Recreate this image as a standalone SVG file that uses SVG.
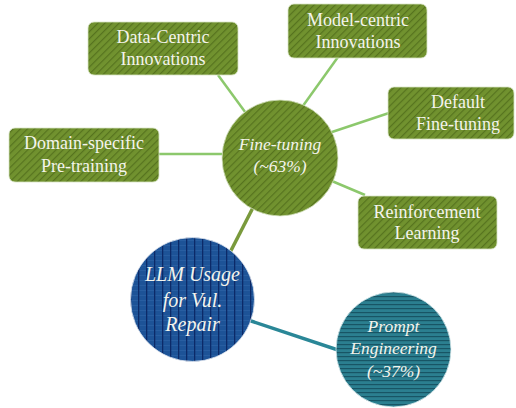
<svg xmlns="http://www.w3.org/2000/svg" width="516" height="408" viewBox="0 0 516 408">
<defs>
<pattern id="hatchG" patternUnits="userSpaceOnUse" width="5" height="5" patternTransform="rotate(45)">
<rect width="5" height="5" fill="#71922f"/>
<rect x="0" y="0" width="1.2" height="5" fill="#56731f"/>
</pattern>
<pattern id="gridB" patternUnits="userSpaceOnUse" width="8" height="5" x="2">
<rect width="8" height="5" fill="#1d5397"/>
<rect x="0" y="0" width="8" height="0.7" fill="#2c62a6"/>
<rect x="0" y="0" width="1.3" height="5" fill="#0c2a68"/>
</pattern>
<pattern id="hlinesT" patternUnits="userSpaceOnUse" width="8" height="4">
<rect width="8" height="4" fill="#2b7f90"/>
<rect x="0" y="0" width="8" height="1.2" fill="#185565"/>
</pattern>
<style>
.box{fill:url(#hatchG);stroke:#d8e4c4;stroke-width:0.8}
.bt{font-size:18px;fill:#f4f4ec;text-anchor:middle}
.ct{font-style:italic;fill:#f4f4ec;text-anchor:middle}
.lg{stroke:#8cc86c;stroke-width:2.5;fill:none}
</style>
</defs>
<g id="connectors">
<line class="lg" x1="218" y1="75" x2="262" y2="135"/>
<line class="lg" x1="159" y1="154" x2="240" y2="154"/>
<line class="lg" x1="338" y1="57" x2="300" y2="110"/>
<line class="lg" x1="389" y1="113" x2="320" y2="136"/>
<line class="lg" x1="320" y1="176" x2="365" y2="195"/>
<line x1="262" y1="190" x2="220" y2="272" stroke="#7a9a3c" stroke-width="3.5"/>
<line x1="230" y1="314" x2="350" y2="354" stroke="#2a8797" stroke-width="3.5"/>
</g>
<g font-family="'Liberation Serif', 'Times New Roman', serif">
<g id="data-centric">
<rect class="box" x="88" y="22" width="150" height="53" rx="6"/>
<text class="bt" x="163" y="43">Data-Centric</text>
<text class="bt" x="163" y="65">Innovations</text>
</g>
<g id="domain-specific">
<rect class="box" x="9" y="128" width="150" height="54" rx="6"/>
<text class="bt" x="84" y="149">Domain-specific</text>
<text class="bt" x="84" y="172">Pre-training</text>
</g>
<g id="model-centric">
<rect class="box" x="288" y="4" width="139" height="54" rx="6"/>
<text class="bt" x="358" y="26">Model-centric</text>
<text class="bt" x="358" y="48">Innovations</text>
</g>
<g id="default-fine-tuning">
<rect class="box" x="388" y="87" width="126" height="52" rx="6"/>
<text class="bt" x="458" y="108">Default</text>
<text class="bt" x="458" y="130">Fine-tuning</text>
</g>
<g id="reinforcement-learning">
<rect class="box" x="358" y="196" width="139" height="53" rx="6"/>
<text class="bt" x="427" y="218">Reinforcement</text>
<text class="bt" x="427" y="239">Learning</text>
</g>
<g id="fine-tuning">
<circle cx="280" cy="158" r="58" fill="url(#hatchG)" stroke="#d8e4c4" stroke-width="0.8"/>
<text class="ct" x="280" y="150" font-size="17.5">Fine-tuning</text>
<text class="ct" x="280" y="172" font-size="17.5">(~63%)</text>
</g>
<g id="llm-usage">
<circle cx="192.5" cy="299.5" r="62" fill="url(#gridB)" stroke="#dfe6f0" stroke-width="0.8"/>
<text class="ct" x="192.5" y="281" font-size="20">LLM Usage</text>
<text class="ct" x="192.5" y="307" font-size="20">for Vul.</text>
<text class="ct" x="192.5" y="331" font-size="20">Repair</text>
</g>
<g id="prompt-engineering">
<circle cx="393.5" cy="349.5" r="57.5" fill="url(#hlinesT)" stroke="#dcecef" stroke-width="0.8"/>
<text class="ct" x="393.5" y="332" font-size="17.5">Prompt</text>
<text class="ct" x="393.5" y="354" font-size="17.5">Engineering</text>
<text class="ct" x="393.5" y="377" font-size="17.5">(~37%)</text>
</g>
</g>
</svg>
